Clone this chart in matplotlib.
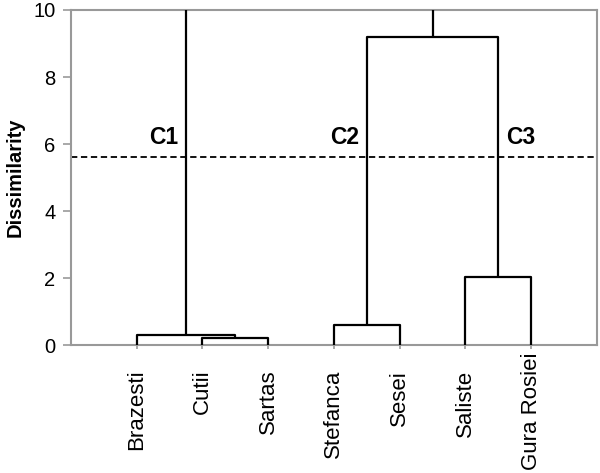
import matplotlib
matplotlib.use("Agg")
import matplotlib.pyplot as plt

plt.rcParams['font.family'] = ['Liberation Sans', 'DejaVu Sans']

# leaves in dendrogram order
sites = ["Brazesti", "Cutii", "Sartas", "Stefanca", "Sesei", "Saliste", "Gura Rosiei"]

# merges, scipy-style: ids 0..6 are leaves, 7.. are new clusters
merge_left = [1, 0, 3, 5, 9, 8]
merge_right = [2, 7, 4, 6, 10, 11]
merge_height = [0.22, 0.31, 0.61, 2.05, 9.19, 12.0]

cut_level = 5.6
cluster_names = ["C1", "C2", "C3"]
cluster_anchor = [8, 9, 10]      # cluster id whose vertical line the label sits next to
cluster_side = ["left", "left", "right"]

frame_gray = "#999999"

fig = plt.figure(figsize=(6, 4.73), dpi=100)
ax = fig.add_axes([0.118, 0.270, 0.877, 0.709])

# positions / heights of every node
xpos = {i: i + 1 for i in range(len(sites))}
ypos = {i: 0.0 for i in range(len(sites))}
for k, (a, b, h) in enumerate(zip(merge_left, merge_right, merge_height)):
    node = len(sites) + k
    ax.plot([xpos[a], xpos[a], xpos[b], xpos[b]], [ypos[a], h, h, ypos[b]],
            color="black", lw=1.6, solid_capstyle="butt", zorder=3)
    xpos[node] = (xpos[a] + xpos[b]) / 2
    ypos[node] = h

ax.axhline(cut_level, color="black", lw=1.3, ls=(0, (3.5, 2)), zorder=2)

for name, node, side in zip(cluster_names, cluster_anchor, cluster_side):
    off = -0.12 if side == "left" else 0.12
    ha = "right" if side == "left" else "left"
    ax.text(xpos[node] + off, 6.0, name, ha=ha, va="baseline",
            fontsize=16.5, fontweight="bold")

ax.set_xlim(0, len(sites) + 1)
ax.set_ylim(0, 10)
ax.set_xticks(range(1, len(sites) + 1))
ax.set_xticklabels([])
ax.set_yticks(range(0, 11, 2))
ax.tick_params(axis="y", labelsize=14.5, color=frame_gray, length=6, width=1.2, pad=5)
ax.tick_params(axis="x", color=frame_gray, length=3, width=1.2)
ax.set_ylabel("Dissimilarity", fontsize=14.5, fontweight="bold", labelpad=6)

# site names: ends lined up under the axis, long ones pushed up to stay on the page
xlab = []
for i, s in enumerate(sites):
    t = ax.text(i + 1, -0.073, s, rotation=90, ha="center", va="top",
                fontsize=16, transform=ax.get_xaxis_transform())
    xlab.append(t)
fig.canvas.draw()
r = fig.canvas.get_renderer()
for t in xlab:
    bb = t.get_window_extent(r)
    if bb.y0 < 3:
        t.set_va("bottom")
        y_ax = ax.transAxes.inverted().transform((0, 3))[1]
        t.set_y(y_ax)

for s in ax.spines.values():
    s.set_color(frame_gray)
    s.set_linewidth(1.5)

fig.savefig("out.png", dpi=100)
